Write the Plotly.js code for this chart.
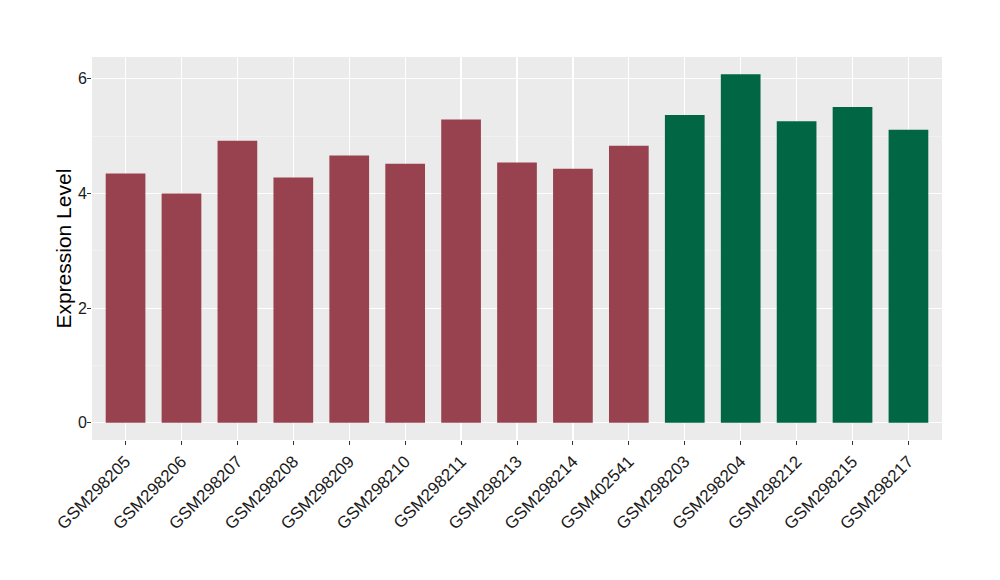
<!DOCTYPE html>
<html>
<head>
<meta charset="utf-8">
<script src="https://cdn.plot.ly/plotly-3.0.1.min.js"></script>
<style>html,body{margin:0;padding:0;background:#fff;}#chart{width:1000px;height:580px;}</style>
</head>
<body>
<div id="chart"></div>
<script>
const samplesA = ["GSM298205","GSM298206","GSM298207","GSM298208","GSM298209","GSM298210","GSM298211","GSM298213","GSM298214","GSM402541"];
const valuesA = [4.35, 4.00, 4.92, 4.28, 4.66, 4.52, 5.29, 4.54, 4.43, 4.83];
const samplesB = ["GSM298203","GSM298204","GSM298212","GSM298215","GSM298217"];
const valuesB = [5.37, 6.08, 5.26, 5.51, 5.11];
const yTicks = [0, 2, 4, 6];
const yTitle = 'Expression Level';

const traces = [
  {type:'bar', x: samplesA, y: valuesA, marker:{color:'#99424F'}, width:0.71, hoverinfo:'x+y'},
  {type:'bar', x: samplesB, y: valuesB, marker:{color:'#006644'}, width:0.71, hoverinfo:'x+y'}
];
const layout = {
  width:1000, height:580,
  margin:{l:92, r:58, t:57, b:140},
  paper_bgcolor:'#FFFFFF', plot_bgcolor:'#EBEBEB',
  showlegend:false,
  barmode:'group',
  font:{family:'Liberation Sans, Arial, sans-serif', color:'#1a1a1a'},
  xaxis:{
    type:'category',
    categoryorder:'array', categoryarray: samplesA.concat(samplesB),
    range:[-0.6, 14.6],
    showgrid:true, gridcolor:'#FFFFFF', gridwidth:1.2,
    tickangle:-45, tickfont:{size:17, color:'#1a1a1a'},
    ticks:'outside', ticklen:4, tickcolor:'#333333',
    zeroline:false, showline:false
  },
  yaxis:{
    range:[-0.30, 6.38],
    tickvals: yTicks, ticktext: yTicks.map(String),
    showgrid:true, gridcolor:'#FFFFFF', gridwidth:1.2,
    minor:{tickvals:[1,3,5], showgrid:true, gridcolor:'#F5F5F5', gridwidth:0.6, ticks:''},
    tickfont:{size:16, color:'#1a1a1a'},
    ticks:'outside', ticklen:4, tickcolor:'#333333',
    ticklabelstandoff:-3,
    zeroline:false, showline:false
  },
  annotations:[{
    text: yTitle, textangle:-90, showarrow:false,
    xref:'paper', yref:'paper', x:-0.034, y:0.5, xanchor:'center', yanchor:'middle',
    font:{size:21, color:'#000000'}
  }]
};
Plotly.newPlot('chart', traces, layout, {displayModeBar:false, staticPlot:true});
</script>
</body>
</html>
